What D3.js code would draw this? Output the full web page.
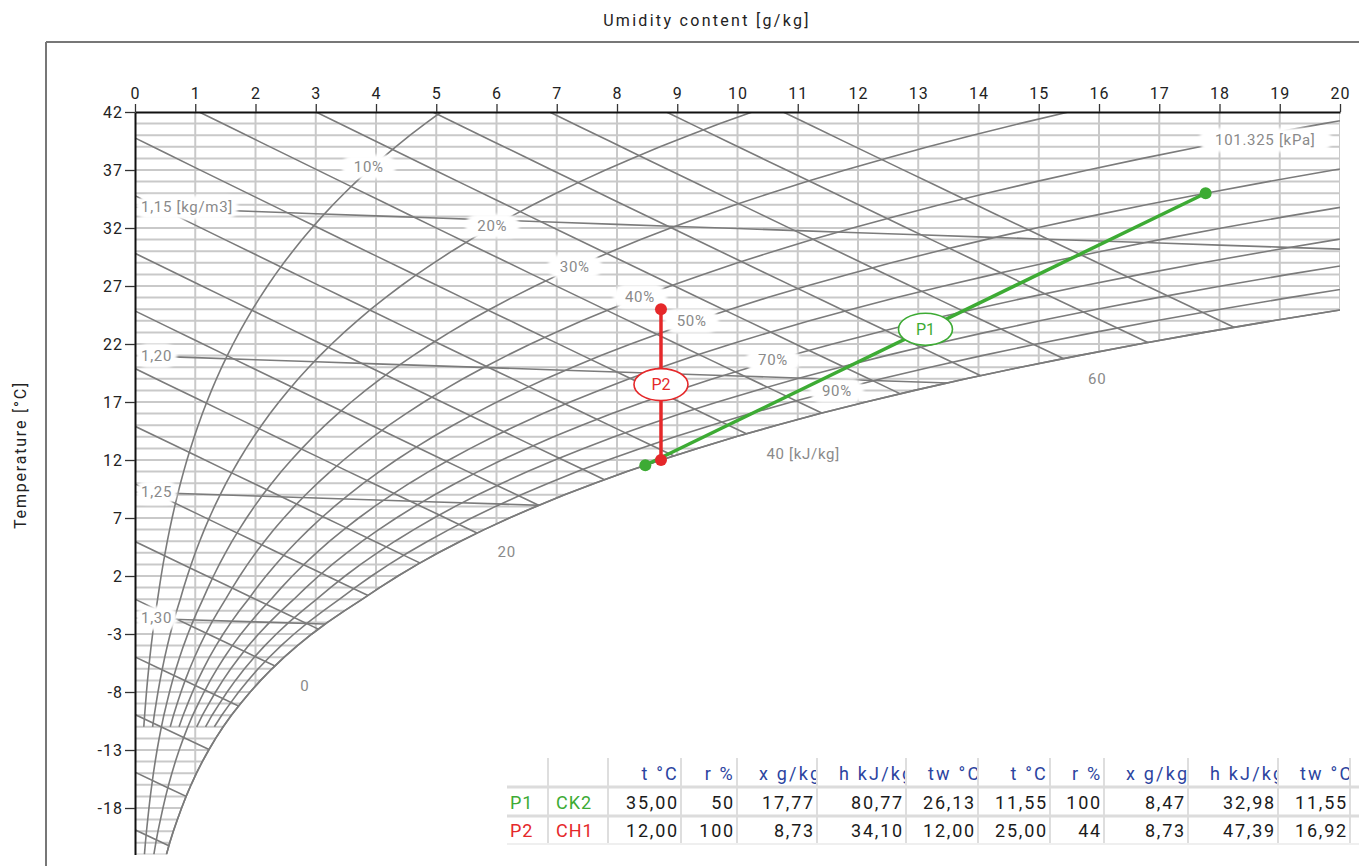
<!DOCTYPE html>
<html>
<head>
<meta charset="utf-8">
<script src="https://cdn.jsdelivr.net/npm/d3@7"></script>
<style>
body { margin:0; background:#fff; }
svg { display:block; font-family: Roboto, "Noto Sans", sans-serif; }
</style>
</head>
<body>
<svg id="chart" width="1359" height="866"></svg>
<script>
// ---- chart values ----
var pressureKPa = 101.325;
var satTemps = d3.range(-22, 43);
// saturation vapour pressure [kPa] at satTemps (ice below 0)
var satPressure = [0.0850,0.0937,0.1035,0.1145,0.1258,0.1380,0.1514,0.1659,0.1817,0.1989,
  0.2176,0.2379,0.2599,0.2848,0.3105,0.3385,0.3689,0.4018,0.4373,0.4759,0.5177,0.5628,
  0.6112,0.6571,0.7060,0.7581,0.8135,0.8726,0.9354,1.0021,1.0730,1.1482,1.2282,1.3129,
  1.4028,1.4981,1.5989,1.7057,1.8188,1.9383,2.0647,2.1982,2.3392,2.4881,2.6452,2.8109,
  2.9856,3.1697,3.3637,3.5679,3.7828,4.0089,4.2467,4.4966,4.7592,5.0351,5.3247,5.6286,
  5.9475,6.2818,6.6324,6.9997,7.3844,7.7873,8.2090];
var rhLevels = [10,20,30,40,50,60,70,80,90,100];
var rhLowLevels = [30,60,100];      // curves drawn below -11 °C
var rhCutTemp = -11;
var enthalpyLevels = [-20,-15,-10,-5,0,5,10,15,20,25,30,35,40,45,50,55,60,65,70];
var densityLevels = [1.15,1.20,1.25,1.30];
var densityLabels = ["1,15 [kg/m3]","1,20","1,25","1,30"];

var rhLabelText = ["10%","20%","30%","40%","50%","70%","90%"];
var rhLabelX = [3.88,5.93,7.30,8.38,9.24,10.59,11.65];
var rhLabelT = [37.3,32.2,28.7,26.1,24.0,20.6,18.0];

var hLabelText = ["0","20","40 [kJ/kg]","60"];
var hLabelX = [2.82,6.17,11.09,15.97];
var hLabelT = [-7.5,4.1,12.5,19.0];

var xTicks = d3.range(0, 21);
var tTicks = [42,37,32,27,22,17,12,7,2,-3,-8,-13,-18];

// process lines (from table)
var p1X = [17.77, 8.47], p1T = [35.00, 11.55];
var p2X = [8.73, 8.73],  p2T = [12.00, 25.00];

var tableHeaders = ["t °C","r %","x g/kg","h kJ/kg","tw °C","t °C","r %","x g/kg","h kJ/kg","tw °C"];
var rowNames = ["P1","P2"];
var rowCodes = ["CK2","CH1"];
var p1Values = ["35,00","50","17,77","80,77","26,13","11,55","100","8,47","32,98","11,55"];
var p2Values = ["12,00","100","8,73","34,10","12,00","25,00","44","8,73","47,39","16,92"];

// ---- colours ----
var GREEN = "#3dab34", RED = "#e5282a", LINE = "#7b7b7b", GRID = "#c9c9c9", LABEL = "#8a8a8a";

var svg = d3.select("#chart");
var xs = d3.scaleLinear().domain([0, 20]).range([135, 1340]);
var ys = d3.scaleLinear().domain([-22, 42]).range([854.4, 112]);

function xFromPv(pv) { return 622 * pv / (pressureKPa - pv); }
function tOnEnthalpy(h, x) { return (h - 2.501 * x) / (1.006 + 0.00186 * x); }
function tOnDensity(rho, x) {
  var k = x / 1000;
  return pressureKPa * 1000 / (287.055 * rho) * (1 + k) / (1 + 1.6078 * k) - 273.15;
}

var line = d3.line().x(function(d){ return xs(d[0]); }).y(function(d){ return ys(d[1]); });

var defs = svg.append("defs");
var f = defs.append("filter").attr("id","soft").attr("x","-20%").attr("y","-40%").attr("width","140%").attr("height","180%");
f.append("feGaussianBlur").attr("stdDeviation", 1.6);

var satPts = satTemps.map(function(t, i){ return [xFromPv(satPressure[i]), t]; });
var poly = [[xs(0), ys(-22)]];
satPts.forEach(function(p){ poly.push([Math.min(xs(p[0]), xs(20)), ys(p[1])]); });
poly.push([xs(20), ys(42)], [xs(0), ys(42)]);
defs.append("clipPath").attr("id","clipSat").append("path")
  .attr("d", "M" + poly.map(function(p){ return p.join(","); }).join("L") + "Z");
defs.append("clipPath").attr("id","clipPlot").append("rect")
  .attr("x", xs(0)).attr("y", ys(42)).attr("width", xs(20) - xs(0)).attr("height", ys(-22) - ys(42));

// frame
svg.append("line").attr("x1",46).attr("x2",1359).attr("y1",42).attr("y2",42).attr("stroke","#777").attr("stroke-width",2);
svg.append("line").attr("x1",46).attr("x2",46).attr("y1",42).attr("y2",866).attr("stroke","#777").attr("stroke-width",2);

// titles
svg.append("text").attr("x",707).attr("y",26).attr("text-anchor","middle")
  .attr("font-size",16).attr("letter-spacing",2.3).attr("fill","#222").text("Umidity content [g/kg]");
svg.append("text").attr("transform","translate(26,455) rotate(-90)").attr("text-anchor","middle")
  .attr("font-size",16).attr("letter-spacing",1.8).attr("fill","#222").text("Temperature [°C]");

// grid
var grid = svg.append("g").attr("clip-path","url(#clipSat)")
  .attr("stroke", GRID).attr("stroke-width", 2);
grid.selectAll(".gv").data(xTicks.slice(1)).enter().append("line")
  .attr("x1", xs).attr("x2", xs).attr("y1", ys(-22)).attr("y2", ys(42));
grid.selectAll(".gh").data(d3.range(-22, 42)).enter().append("line")
  .attr("x1", xs(0)).attr("x2", xs(20)).attr("y1", ys).attr("y2", ys);

// chart lines
var lines = svg.append("g").attr("fill","none").attr("stroke", LINE).attr("stroke-width", 1.6);
var rhG = lines.append("g").attr("clip-path","url(#clipPlot)");
rhLevels.forEach(function(rh){
  var tMin = rhLowLevels.indexOf(rh) >= 0 ? -22 : rhCutTemp;
  var pts = [];
  satTemps.forEach(function(t, i){
    if (t >= tMin) pts.push([xFromPv(rh / 100 * satPressure[i]), t]);
  });
  rhG.append("path").attr("d", line(pts));
});
var clipG = lines.append("g").attr("clip-path","url(#clipSat)");
enthalpyLevels.forEach(function(h){
  var x0 = h <= 1.006 * 42 ? 0 : (h - 1.006 * 42) / ((2501 + 1.86 * 42) / 1000);
  var pts = [];
  for (var x = x0; x <= 20.001; x += 0.5) pts.push([x, tOnEnthalpy(h, x)]);
  clipG.append("path").attr("d", line(pts));
});
densityLevels.forEach(function(rho){
  var pts = xTicks.map(function(x){ return [x, tOnDensity(rho, x)]; });
  clipG.append("path").attr("d", line(pts));
});

// labels with soft white background
var labels = svg.append("g").attr("font-size", 15).attr("fill", LABEL).attr("letter-spacing", 0.7);
function boxed(text, px, py, anchor, padX, padY) {
  var g = labels.append("g");
  var bg = g.append("rect").attr("fill","#fff").attr("filter","url(#soft)");
  var t = g.append("text").attr("x", px).attr("y", py).attr("dy","0.35em")
    .attr("text-anchor", anchor).text(text);
  var b = t.node().getBBox();
  var hh = b.height + 2 * padY;
  bg.attr("x", b.x - padX).attr("y", b.y - padY).attr("width", b.width + 2 * padX)
    .attr("height", hh).attr("rx", hh / 2);
}
rhLabelText.forEach(function(s, i){ boxed(s, xs(rhLabelX[i]), ys(rhLabelT[i]), "middle", 12, 3); });
densityLevels.forEach(function(rho, i){ boxed(densityLabels[i], xs(0) + 6, ys(tOnDensity(rho, 0)), "start", 5, 3); });
boxed("101.325 [kPa]", xs(18.76), ys(39.6), "middle", 16, 3);
hLabelText.forEach(function(s, i){
  labels.append("text").attr("x", xs(hLabelX[i])).attr("y", ys(hLabelT[i]))
    .attr("dy","0.35em").attr("text-anchor","middle").text(s);
});

// saturation curve (100%) drawn again on top of grid edge
svg.append("path").attr("clip-path","url(#clipPlot)").attr("fill","none")
  .attr("stroke", LINE).attr("stroke-width", 1.6).attr("d", line(satPts));

// axes
var minorX = d3.range(0, 141).map(function(i){ return i / 7; });
var axT = svg.append("g").attr("transform","translate(0," + ys(42) + ")");
axT.call(d3.axisTop(xs).tickValues(minorX).tickSize(4).tickSizeOuter(0).tickFormat(""));
axT.call(d3.axisTop(xs).tickValues(xTicks).tickSize(8).tickSizeOuter(0).tickFormat(function(d){ return String(d); }));
var axL = svg.append("g").attr("transform","translate(" + xs(0) + ",0)");
axL.call(d3.axisLeft(ys).tickValues(d3.range(-22, 43)).tickSize(5).tickSizeOuter(0).tickFormat(""));
axL.call(d3.axisLeft(ys).tickValues(tTicks).tickSize(10).tickSizeOuter(0).tickFormat(function(d){ return String(d); }));
svg.selectAll(".domain").attr("stroke","#111").attr("stroke-width",2);
svg.selectAll(".tick line").attr("stroke","#333").attr("stroke-width",1.3);
svg.selectAll(".tick text").attr("font-size",16).attr("fill","#222").attr("letter-spacing",1)
  .attr("font-family","Roboto, sans-serif");
axT.selectAll(".tick text").attr("y", -13);
axL.selectAll(".tick text").attr("x", -12);

// process lines
var proc = svg.append("g");
function drawProcess(xv, tv, color, name) {
  var pts = xv.map(function(x, i){ return [x, tv[i]]; });
  proc.append("path").attr("d", line(pts)).attr("fill","none").attr("stroke", color).attr("stroke-width", 3.5);
  pts.forEach(function(p){
    proc.append("circle").attr("cx", xs(p[0])).attr("cy", ys(p[1])).attr("r", 6).attr("fill", color);
  });
  var cx = (xs(pts[0][0]) + xs(pts[1][0])) / 2, cy = (ys(pts[0][1]) + ys(pts[1][1])) / 2;
  proc.append("ellipse").attr("cx", cx).attr("cy", cy).attr("rx", 27).attr("ry", 16)
    .attr("fill","#fff").attr("stroke", color).attr("stroke-width", 1.6);
  proc.append("text").attr("x", cx).attr("y", cy).attr("dy","0.35em").attr("text-anchor","middle")
    .attr("font-size", 16).attr("fill", color).text(name);
}
drawProcess(p1X, p1T, GREEN, "P1");
drawProcess(p2X, p2T, RED, "P2");

// table
var colEdges = [507, 548, 608, 681, 737, 817, 906, 978, 1050, 1104, 1188, 1278, 1350];
var rowEdges = [758, 787, 816, 844];
var tbl = svg.append("g").attr("font-size", 18).attr("letter-spacing", 1.8);
tbl.append("rect").attr("x", colEdges[0]).attr("y", rowEdges[0]).attr("width", 1359 - colEdges[0])
  .attr("height", rowEdges[3] - rowEdges[0]).attr("fill", "#fff");
colEdges.slice(1).forEach(function(x){
  tbl.append("line").attr("x1", x).attr("x2", x).attr("y1", rowEdges[0]).attr("y2", rowEdges[3])
    .attr("stroke", "#dedede").attr("stroke-width", 2);
});
[1, 2].forEach(function(r){
  tbl.append("line").attr("x1", colEdges[0]).attr("x2", 1359).attr("y1", rowEdges[r]).attr("y2", rowEdges[r])
    .attr("stroke", "#dcdcdc").attr("stroke-width", 3);
});
tbl.append("line").attr("x1", colEdges[0]).attr("x2", 1359).attr("y1", rowEdges[3]).attr("y2", rowEdges[3])
  .attr("stroke", "#efefef").attr("stroke-width", 2);

tableHeaders.forEach(function(s, i){
  var l = colEdges[i + 2], r = colEdges[i + 3];
  defs.append("clipPath").attr("id", "hc" + i).append("rect")
    .attr("x", l).attr("y", rowEdges[0]).attr("width", r - l - 1).attr("height", rowEdges[1] - rowEdges[0]);
  var t = tbl.append("text").attr("clip-path", "url(#hc" + i + ")").attr("y", (rowEdges[0] + rowEdges[1]) / 2 + 1)
    .attr("dy", "0.35em").attr("fill", "#2c44a0").attr("letter-spacing", 2.2).text(s);
  var w = t.node().getComputedTextLength();
  t.attr("x", Math.max(l + 22, r - 2 - w));
});
var rows = [p1Values, p2Values];
var rowColors = [GREEN, RED];
rows.forEach(function(vals, r){
  var cy = (rowEdges[r + 1] + rowEdges[r + 2]) / 2 + 1;
  tbl.append("text").attr("x", colEdges[0] + 3).attr("y", cy).attr("dy","0.35em").attr("fill", rowColors[r]).attr("letter-spacing", 1).text(rowNames[r]);
  tbl.append("text").attr("x", colEdges[1] + 8).attr("y", cy).attr("dy","0.35em").attr("fill", rowColors[r]).attr("letter-spacing", 1).text(rowCodes[r]);
  vals.forEach(function(v, i){
    tbl.append("text").attr("x", colEdges[i + 3] - 2).attr("y", cy).attr("dy","0.35em")
      .attr("text-anchor","end").attr("fill","#1a1a1a").text(v);
  });
});
</script>
</body>
</html>
